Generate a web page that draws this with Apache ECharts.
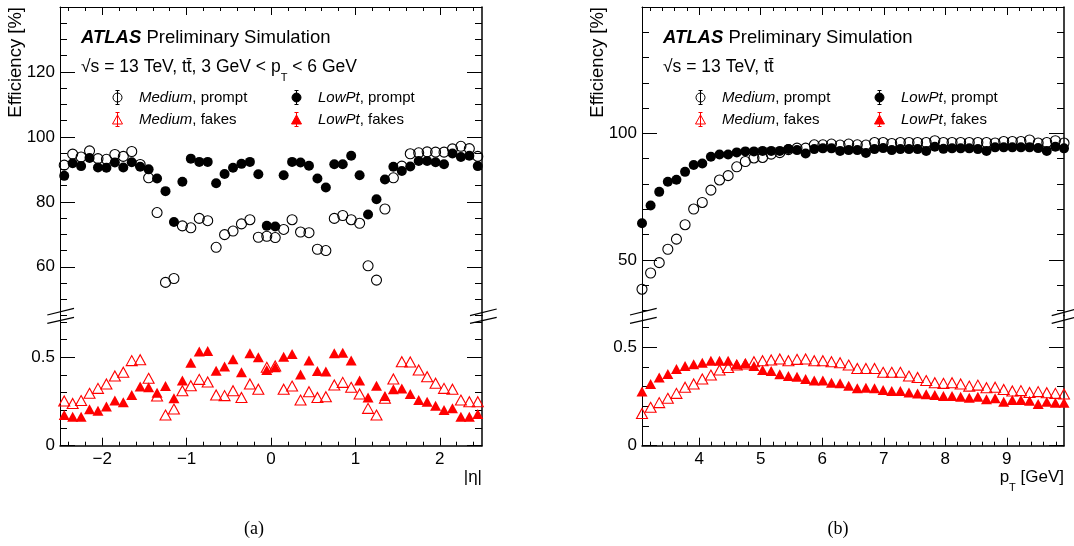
<!DOCTYPE html>
<html>
<head>
<meta charset="utf-8">
<script src="https://cdn.jsdelivr.net/npm/echarts@6/dist/echarts.min.js"></script>
<style>
html, body { margin: 0; padding: 0; background: #fff; }
#chart { width: 1074px; height: 546px; }
</style>
</head>
<body>
<div id="chart"></div>
<script>
// ---- bin centres ----
const etaBins = [-2.45,-2.35,-2.25,-2.15,-2.05,-1.95,-1.85,-1.75,-1.65,-1.55,-1.45,-1.35,-1.25,-1.15,-1.05,-0.95,-0.85,-0.75,-0.65,-0.55,-0.45,-0.35,-0.25,-0.15,-0.05,0.05,0.15,0.25,0.35,0.45,0.55,0.65,0.75,0.85,0.95,1.05,1.15,1.25,1.35,1.45,1.55,1.65,1.75,1.85,1.95,2.05,2.15,2.25,2.35,2.45];
const ptBins = [3.07,3.21,3.35,3.49,3.63,3.77,3.91,4.05,4.19,4.33,4.47,4.61,4.75,4.89,5.03,5.17,5.31,5.45,5.59,5.73,5.87,6.01,6.15,6.29,6.43,6.57,6.71,6.85,6.99,7.13,7.27,7.41,7.55,7.69,7.83,7.97,8.11,8.25,8.39,8.53,8.67,8.81,8.95,9.09,9.23,9.37,9.51,9.65,9.79,9.93];

// ---- efficiencies vs eta (prompt in %, fakes as fraction) ----
const etaMediumPrompt = [91.3,94.7,93.8,95.7,93.3,93.1,94.6,94.0,95.5,91.5,87.4,76.7,55.2,56.4,72.6,72.0,74.9,74.2,66.0,69.9,71.0,73.2,74.5,69.1,69.4,69.0,71.5,74.5,70.7,70.5,65.4,65.0,74.9,75.8,74.5,73.4,60.3,55.9,77.8,87.4,91.0,94.8,95.1,95.4,95.3,95.3,96.3,97.1,96.4,94.0];
const etaLowPtPrompt = [88.0,91.9,91.0,93.5,90.6,90.5,92.1,90.6,92.2,90.8,90.0,87.2,83.3,73.8,86.2,93.3,92.3,92.3,85.7,88.6,90.5,91.7,92.3,88.5,72.6,72.4,88.2,92.3,92.1,91.1,87.2,84.4,91.6,91.6,94.2,88.2,76.1,80.8,86.9,90.8,89.5,90.9,92.6,92.6,92.2,91.6,94.9,93.8,94.2,91.0];
const etaMediumFakes = [0.253,0.239,0.255,0.296,0.324,0.349,0.394,0.415,0.481,0.486,0.381,0.281,0.173,0.207,0.311,0.339,0.375,0.360,0.287,0.283,0.311,0.273,0.349,0.319,0.443,0.451,0.319,0.337,0.258,0.305,0.273,0.277,0.343,0.358,0.330,0.292,0.211,0.173,0.268,0.377,0.475,0.473,0.428,0.390,0.353,0.324,0.319,0.258,0.249,0.249];
const etaLowPtFakes = [0.173,0.164,0.164,0.206,0.198,0.221,0.255,0.245,0.287,0.334,0.330,0.300,0.337,0.268,0.368,0.469,0.532,0.535,0.424,0.447,0.488,0.415,0.522,0.500,0.428,0.443,0.503,0.518,0.403,0.481,0.422,0.419,0.522,0.526,0.481,0.368,0.273,0.339,0.281,0.319,0.324,0.292,0.258,0.249,0.226,0.202,0.211,0.164,0.164,0.179];

// ---- efficiencies vs pT ----
const ptMediumPrompt = [38.4,44.8,48.9,54.2,58.2,63.9,70.1,72.7,77.6,81.6,83.3,86.8,88.9,90.3,90.5,91.8,92.4,93.6,94.2,94.2,95.5,95.5,95.8,95.4,95.8,95.5,95.4,96.4,96.4,96.0,96.4,96.4,96.4,96.4,97.1,96.4,96.4,96.4,96.4,96.4,96.4,96.2,96.8,96.8,96.8,97.4,96.2,96.4,97.1,96.2];
const ptLowPtPrompt = [64.5,71.5,76.9,80.9,81.7,84.8,87.5,88.1,90.8,91.7,91.7,92.5,92.9,92.9,93.1,93.1,93.1,93.8,93.4,92.1,93.8,94.1,94.1,93.1,93.4,93.4,92.3,93.8,94.2,93.4,93.8,93.8,93.8,93.1,94.7,93.9,94.1,94.1,94.1,93.8,93.1,94.5,94.5,94.5,94.5,94.5,94.2,93.1,94.7,94.1];
const ptMediumFakes = [0.164,0.195,0.219,0.241,0.266,0.297,0.314,0.339,0.359,0.385,0.398,0.410,0.415,0.427,0.432,0.436,0.441,0.432,0.439,0.441,0.432,0.432,0.427,0.422,0.410,0.393,0.393,0.393,0.373,0.373,0.373,0.354,0.347,0.331,0.320,0.317,0.320,0.314,0.303,0.308,0.295,0.297,0.286,0.278,0.280,0.271,0.275,0.269,0.266,0.263];
const ptLowPtFakes = [0.275,0.314,0.347,0.364,0.390,0.405,0.414,0.422,0.432,0.432,0.432,0.414,0.419,0.405,0.385,0.380,0.363,0.354,0.351,0.339,0.331,0.331,0.320,0.317,0.305,0.292,0.295,0.292,0.283,0.278,0.278,0.271,0.266,0.261,0.258,0.253,0.253,0.249,0.244,0.249,0.236,0.241,0.224,0.232,0.232,0.229,0.212,0.224,0.219,0.219];

// ---- axis ranges, tick marks and tick labels ----
const etaRange = [-2.5, 2.5];
const ptRange = [3.07, 9.93];
const etaMajorTicks = [-2, -1, 0, 1, 2];
const ptMajorTicks = [4, 5, 6, 7, 8, 9];
const leftUpperRange = [45, 140];
const leftUpperMajor = [60, 80, 100, 120, 140];
const leftUpperLabels = [60, 80, 100, 120];
const rightUpperRange = [28, 150];
const rightUpperMajor = [50, 100, 150];
const rightUpperLabels = [50, 100];
const leftLowerRange = [0, 0.736];
const rightLowerRange = [0, 0.662];
const lowerMajor = [0, 0.5];

const FONT = '"Liberation Sans", Arial, Helvetica, sans-serif';
const SERIF = '"Liberation Serif", "Times New Roman", serif';

function minorTicks(range, step, majors) {
  const out = [];
  const k0 = Math.ceil(range[0] / step - 1e-9), k1 = Math.floor(range[1] / step + 1e-9);
  for (let k = k0; k <= k1; k++) {
    const v = +(k * step).toFixed(6);
    if (!majors.some(m => Math.abs(m - v) < 1e-9)) out.push(v);
  }
  return out;
}
const fmt = v => (v < 0 ? '\u2212' + (-v) : String(v));

const grids = [], xAxes = [], yAxes = [], series = [];

// one axis drawing the long ticks (and labels), one drawing the short ticks
function addAxisPair(list, gridIndex, position, range, majors, labels, minorStep, lenMaj, lenMin, lineWidth) {
  const base = { type: 'value', gridIndex, position, min: range[0], max: range[1],
    splitLine: { show: false }, splitArea: { show: false }, silent: true };
  const idx = list.length;
  list.push(Object.assign({}, base, {
    axisLine: { show: true, onZero: false, lineStyle: { color: '#000', width: lineWidth } },
    axisTick: { show: true, inside: true, length: lenMaj, customValues: majors, lineStyle: { color: '#000', width: 1 } },
    axisLabel: labels
      ? { show: true, customValues: labels, formatter: fmt, color: '#000', fontFamily: FONT, fontSize: 17, margin: 5 }
      : { show: false }
  }));
  list.push(Object.assign({}, base, {
    axisLine: { show: false, onZero: false },
    axisTick: { show: true, inside: true, length: lenMin, customValues: minorTicks(range, minorStep, majors), lineStyle: { color: '#000', width: 1 } },
    axisLabel: { show: false }
  }));
  return idx;
}

function addPanel(left, xRange, xMajors, upperRange, upperMajors, upperLabels, upperStep, lowerRange, x, prompts, fakes) {
  const gU = grids.length;
  grids.push({ left, top: 7, width: 422, height: 308.5, outerBoundsMode: 'none', containLabel: false });
  const gL = grids.length;
  grids.push({ left, top: 315.5, width: 422, height: 130.2, outerBoundsMode: 'none', containLabel: false });

  const xU = addAxisPair(xAxes, gU, 'top', xRange, xMajors, null, 0.2, 8, 4, 1);
  const xL = addAxisPair(xAxes, gL, 'bottom', xRange, xMajors, xMajors, 0.2, 8, 4, 1.5);
  const yU = addAxisPair(yAxes, gU, 'left', upperRange, upperMajors, upperLabels, upperStep, 15, 7, 1);
  addAxisPair(yAxes, gU, 'right', upperRange, upperMajors, null, upperStep, 15, 7, 1.5);
  const yL = addAxisPair(yAxes, gL, 'left', lowerRange, lowerMajor, lowerMajor, 0.1, 15, 7, 1);
  addAxisPair(yAxes, gL, 'right', lowerRange, lowerMajor, null, 0.1, 15, 7, 1.5);

  const zip = ys => x.map((v, i) => [v, ys[i]]);
  const common = { type: 'scatter', clip: false, silent: true, animation: false };
  series.push(Object.assign({}, common, { name: 'Medium, prompt', xAxisIndex: xU, yAxisIndex: yU,
    data: zip(prompts[0]), symbol: 'circle', symbolSize: 10,
    itemStyle: { color: 'rgba(0,0,0,0)', borderColor: '#000', borderWidth: 1.1, opacity: 1 } }));
  series.push(Object.assign({}, common, { name: 'LowPt, prompt', xAxisIndex: xU, yAxisIndex: yU,
    data: zip(prompts[1]), symbol: 'circle', symbolSize: 10,
    itemStyle: { color: '#000', borderColor: '#000', borderWidth: 0, opacity: 1 } }));
  series.push(Object.assign({}, common, { name: 'Medium, fakes', xAxisIndex: xL, yAxisIndex: yL,
    data: zip(fakes[0]), symbol: 'triangle', symbolSize: [11, 10],
    itemStyle: { color: 'rgba(0,0,0,0)', borderColor: '#ff0000', borderWidth: 1.1, opacity: 1 } }));
  series.push(Object.assign({}, common, { name: 'LowPt, fakes', xAxisIndex: xL, yAxisIndex: yL,
    data: zip(fakes[1]), symbol: 'triangle', symbolSize: [11, 10],
    itemStyle: { color: '#ff0000', borderColor: '#ff0000', borderWidth: 0, opacity: 1 } }));
}

addPanel(60, etaRange, etaMajorTicks, leftUpperRange, leftUpperMajor, leftUpperLabels, 5, leftLowerRange, etaBins,
  [etaMediumPrompt, etaLowPtPrompt], [etaMediumFakes, etaLowPtFakes]);
addPanel(642, ptRange, ptMajorTicks, rightUpperRange, rightUpperMajor, rightUpperLabels, 10, rightLowerRange, ptBins,
  [ptMediumPrompt, ptLowPtPrompt], [ptMediumFakes, ptLowPtFakes]);

// legend icons: marker with a small vertical error bar
const circleIcon = 'path://M5.5,0L5.5,14M3.5,0L7.5,0M3.5,14L7.5,14M10,7A4.5,4.5,0,1,1,1,7A4.5,4.5,0,1,1,10,7Z';
const triIcon = 'path://M5.5,0L5.5,14M3.5,0L7.5,0M3.5,14L7.5,14M0.5,11.5L10.5,11.5L5.5,2.5Z';
const legendText = {
  fontFamily: FONT, fontSize: 15, color: '#000', padding: [0, 0, 0, 11],
  rich: { i: { fontFamily: FONT, fontSize: 15, fontStyle: 'italic', color: '#000' } }
};
const legendFmt = name => { const p = name.split(', '); return '{i|' + p[0] + '}, ' + p[1]; };
function legendCol(left, items) {
  return { orient: 'vertical', left, top: 90, padding: 0, itemGap: 7, itemWidth: 11, itemHeight: 14,
    selectedMode: false, textStyle: legendText, formatter: legendFmt, data: items };
}
const openCircleItem = { name: 'Medium, prompt', icon: circleIcon, itemStyle: { color: 'rgba(0,0,0,0)', borderColor: '#000', borderWidth: 1, opacity: 1 } };
const fullCircleItem = { name: 'LowPt, prompt', icon: circleIcon, itemStyle: { color: '#000', borderColor: '#000', borderWidth: 1, opacity: 1 } };
const openTriItem = { name: 'Medium, fakes', icon: triIcon, itemStyle: { color: 'rgba(0,0,0,0)', borderColor: '#ff0000', borderWidth: 1, opacity: 1 } };
const fullTriItem = { name: 'LowPt, fakes', icon: triIcon, itemStyle: { color: '#ff0000', borderColor: '#ff0000', borderWidth: 1, opacity: 1 } };

const legends = [
  legendCol(112, [openCircleItem, openTriItem]),
  legendCol(291, [fullCircleItem, fullTriItem]),
  legendCol(695, [openCircleItem, openTriItem]),
  legendCol(874, [fullCircleItem, fullTriItem])
];

// ---- annotation text, axis titles and axis-break marks ----
const sub = { fontFamily: FONT, fontSize: 11, padding: [22, 0, 0, 0] };
function label(x, y, text, size, extra) {
  return Object.assign({ type: 'text', x, y, silent: true,
    style: Object.assign({ text, fill: '#000', fontFamily: FONT, fontSize: size, verticalAlign: 'middle', align: 'left',
      rich: { b: { fontFamily: FONT, fontSize: size, fontWeight: 'bold', fontStyle: 'italic' }, s: sub } }, extra || {}) });
}
function breakMark(x0, y0, x1, y1) {
  return { type: 'line', silent: true, shape: { x1: x0, y1: y0, x2: x1, y2: y1 }, style: { stroke: '#000', lineWidth: 1.2 } };
}
const graphics = [
  label(81, 38, '{b|ATLAS} Preliminary Simulation', 18.5),
  label(81, 67, '\u221As = 13 TeV, tt\u0304, 3 GeV < p{s|T} < 6 GeV', 17.5),
  label(663, 38, '{b|ATLAS} Preliminary Simulation', 18.5),
  label(663, 67, '\u221As = 13 TeV, tt\u0304', 17.5),
  label(482, 477, '|\u03B7|', 17, { align: 'right' }),
  label(1064, 477, 'p{s|T} [GeV]', 17, { align: 'right' }),
  { type: 'text', x: 16, y: 7, rotation: Math.PI / 2, silent: true,
    style: { text: 'Efficiency [%]', fill: '#000', fontFamily: FONT, fontSize: 18.5, align: 'right', verticalAlign: 'middle' } },
  { type: 'text', x: 598, y: 7, rotation: Math.PI / 2, silent: true,
    style: { text: 'Efficiency [%]', fill: '#000', fontFamily: FONT, fontSize: 18.5, align: 'right', verticalAlign: 'middle' } },
  { type: 'text', x: 254, y: 529, silent: true,
    style: { text: '(a)', fill: '#000', fontFamily: SERIF, fontSize: 18, align: 'center', verticalAlign: 'middle' } },
  { type: 'text', x: 838, y: 529, silent: true,
    style: { text: '(b)', fill: '#000', fontFamily: SERIF, fontSize: 18, align: 'center', verticalAlign: 'middle' } },
  breakMark(47.3, 315, 74, 308.3), breakMark(47.3, 323.3, 74, 317.3),
  breakMark(470, 315.7, 496.7, 309), breakMark(470, 323.3, 496.7, 317.3),
  breakMark(630, 315, 656.7, 308.3), breakMark(630, 323.3, 656.7, 317.3),
  breakMark(1051.7, 315.7, 1076, 309), breakMark(1051.7, 323.3, 1076, 317)
];

const chart = echarts.init(document.getElementById('chart'), null, { renderer: 'canvas' });
chart.setOption({
  animation: false,
  backgroundColor: '#fff',
  grid: grids,
  xAxis: xAxes,
  yAxis: yAxes,
  legend: legends,
  series: series,
  graphic: graphics
});
</script>
</body>
</html>
